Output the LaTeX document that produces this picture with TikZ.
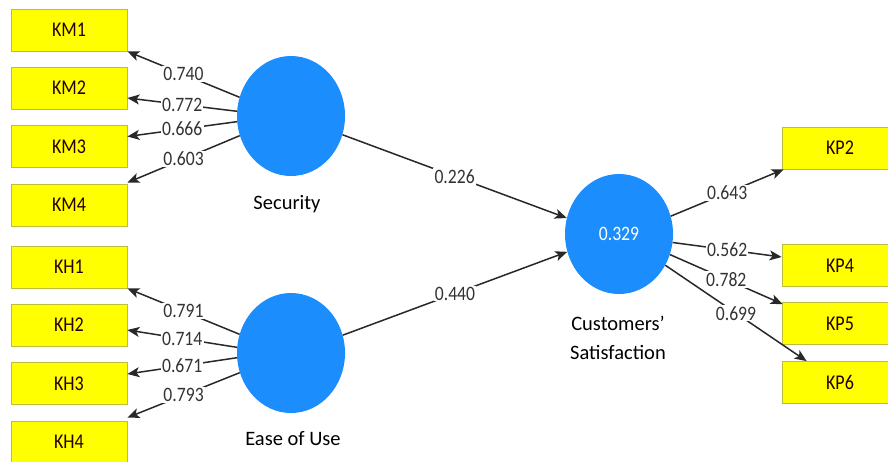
\documentclass[tikz,border=0pt]{standalone}
\usepackage{fontspec}
\setmainfont{Carlito}
\newfontfamily\narrowfont[FakeStretch=0.86]{Carlito}
\usetikzlibrary{arrows.meta,shapes.geometric}
\definecolor{latblue}{RGB}{28,141,252}
\definecolor{boxyellow}{RGB}{255,255,0}
\definecolor{boxedge}{RGB}{190,190,60}
\definecolor{linegray}{RGB}{40,40,40}
\tikzset{
  indbox/.style={rectangle, fill=boxyellow, draw=boxedge, line width=0.8pt,
    minimum width=116pt, minimum height=42pt, inner sep=0pt,
    font=\narrowfont\fontsize{21}{23}\selectfont, text=black!85!red},
  latent/.style={ellipse, fill=latblue, draw=none, minimum width=108pt,
    minimum height=120pt, inner sep=0pt, font=\narrowfont\fontsize{20.5}{22}\selectfont, text=white},
  capt/.style={font=\fontsize{20.5}{29}\selectfont, align=center, inner sep=0pt},
  wlbl/.style={fill=white, inner sep=1.2pt, font=\narrowfont\fontsize{20.5}{22}\selectfont,
    text=black!80},
  arr/.style={draw=linegray, line width=1.5pt,
    -{Stealth[length=12pt, width=10pt, inset=3pt]}}
}
\begin{document}
\begin{tikzpicture}[x=1pt, y=-1pt]
\clip (0,0) rectangle (888,461);
\fill[white] (0,0) rectangle (888,461);
% indicator boxes
\node[indbox] (km1) at (69,30) {KM1};
\node[indbox] (km2) at (69,88) {KM2};
\node[indbox] (km3) at (69,146.5) {KM3};
\node[indbox] (km4) at (69,205) {KM4};
\node[indbox] (kh1) at (69,267) {KH1};
\node[indbox] (kh2) at (69,325) {KH2};
\node[indbox] (kh3) at (69,383.5) {KH3};
\node[indbox] (kh4) at (69,442) {KH4};
\node[indbox] (kp2) at (840,148) {KP2};
\node[indbox] (kp4) at (840,265.5) {KP4};
\node[indbox] (kp5) at (840,323.5) {KP5};
\node[indbox] (kp6) at (840,382.5) {KP6};
% latent variables
\node[latent] (sec) at (291,116) {};
\node[latent] (ease) at (291,353) {};
\node[latent] (cs) at (619,234) {0.329};
\node[capt] (seclbl) at (287,204) {Security};
\node[capt] (easelbl) at (293,439) {Ease of Use};
\node[capt] (cslbl) at (618,337.5) {Customers’\\Satisfaction};
% outer loadings Security
\draw[arr] (sec.160) -- node[wlbl]{0.740} (km1.south east);
\draw[arr] (sec.175) -- node[wlbl]{0.772} ([yshift=-10pt]km2.east);
\draw[arr] (sec.186) -- node[wlbl]{0.666} ([yshift=10pt]km3.east);
\draw[arr] (sec.201) -- node[wlbl]{0.603} ([yshift=1pt]km4.north east);
% outer loadings Ease of Use
\draw[arr] (ease.160) -- node[wlbl]{0.791} (kh1.south east);
\draw[arr] (ease.174) -- node[wlbl]{0.714} ([yshift=-5pt]kh2.east);
\draw[arr] (ease.185) -- node[wlbl]{0.671} ([yshift=9.5pt]kh3.east);
\draw[arr] (ease.201) -- node[wlbl]{0.793} ([yshift=3pt]kh4.north east);
% paths
\draw[arr] (sec.340) -- node[wlbl]{0.226} (cs.163);
\draw[arr] (ease.19) -- node[wlbl]{0.440} (cs.199);
% outer loadings Customers' Satisfaction
\draw[arr] (cs.19) -- node[wlbl]{0.643} ([xshift=2pt]kp2.south west);
\draw[arr] (cs.351) -- node[wlbl]{0.562} ([yshift=8.5pt]kp4.west);
\draw[arr] (cs.338) -- node[wlbl]{0.782} ([yshift=-2pt,xshift=1pt]kp5.north west);
\draw[arr] (cs.326) -- node[wlbl]{0.699} ([xshift=25pt]kp6.north west);
\end{tikzpicture}
\end{document}
